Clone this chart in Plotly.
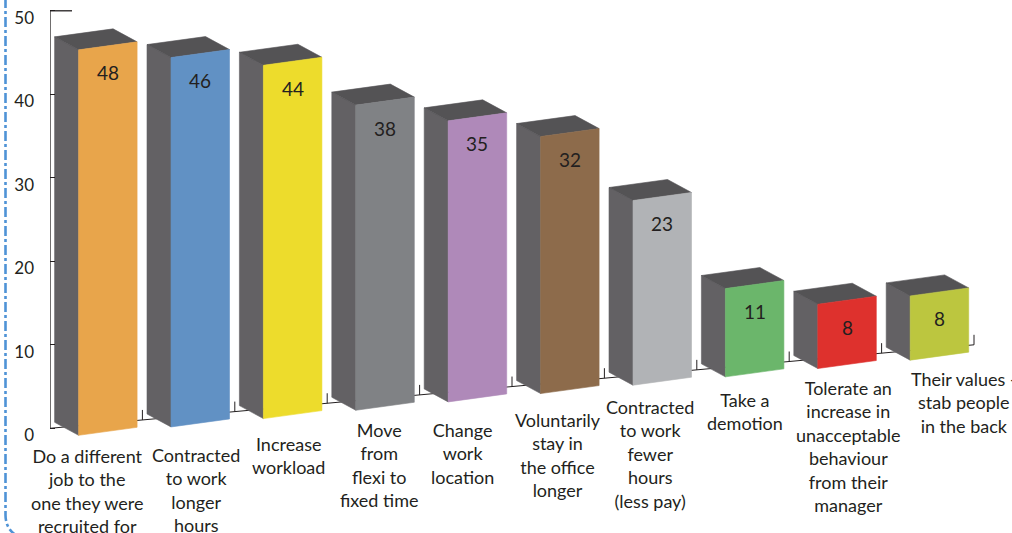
import plotly.graph_objects as go

# ---- data -------------------------------------------------------------
categories = [
    "Do a different<br>job to the<br>one they were<br>recruited for",
    "Contracted<br>to work<br>longer<br>hours",
    "Increase<br>workload",
    "Move<br>from<br>flexi to<br>fixed time",
    "Change<br>work<br>location",
    "Voluntarily<br>stay in<br>the office<br>longer",
    "Contracted<br>to work<br>fewer<br>hours<br>(less pay)",
    "Take a<br>demotion",
    "Tolerate an<br>increase in<br>unacceptable<br>behaviour<br>from their<br>manager",
    "Their values -<br>stab people<br>in the back",
]
values = [48, 46, 44, 38, 35, 32, 23, 11, 8, 8]
y_ticks = [0, 10, 20, 30, 40, 50]

# ---- style ------------------------------------------------------------
face_colors = ["#E8A54B", "#6191C4", "#EDDC2C", "#808285", "#AF89B9",
               "#8D6B4B", "#B1B3B6", "#6BB66B", "#DE312D", "#BCC63F"]
SIDE_COLOR = "#636164"
TOP_COLOR = "#545355"
INK = "#231F20"
FONT = "Lato, 'Open Sans', sans-serif"

W, H = 1012, 533
PLOT_LEFT = 50          # px, where the value axis sits
ORIGIN_Y = 428.3        # px, screen row of value 0 on the axis
CAT_PX = 92.4           # px per category along the floor
VAL_PX = 8.35           # px per value unit on the axis
FLOOR_RISE_PX = 8.35    # floor climbs this many px per category (oblique view)
BAR_PX = 8.03           # px per value unit on the bar fronts (set in front of the axis)

FRONT_OFFSET = (28.6, 7.0)   # px from category start on the floor to front-bottom-left
FRONT_W = (58.5, -8.0)       # px, front face width vector
DEPTH = (-24.0, -13.0)       # px, front-to-back vector
TICK_PX = 10                 # px, height of floor ticks
LABEL_SHIFT = 27             # px below the top edge for value labels

# small per-label nudges for the category captions (px)
label_dx = [-9, 7, 7.5, 6, -3, 0, -1, 2, 12.6, 36]
label_drop = [31.9, 39.3, 35.9, 31, 39.3, 37.4, 32.8, 33.8, 30.2, 30]
LINE_PX = 23.4


def off(dx, dy):
    """Screen-pixel offset -> data-unit offset."""
    return dx / CAT_PX, -dy / VAL_PX


def add(p, q):
    return (p[0] + q[0], p[1] + q[1])


floor_slope = FLOOR_RISE_PX / VAL_PX
bar_scale = BAR_PX / VAL_PX

fig = go.Figure()

# floor line with category ticks (behind the bars)
n = len(values)
fx = [0, n]
fy = [0, n * floor_slope]
tick_dv = TICK_PX / VAL_PX
for k in range(1, n + 1):
    fx += [None, k, k]
    fy += [None, k * floor_slope, k * floor_slope + tick_dv]
fig.add_trace(go.Scatter(x=fx, y=fy, mode="lines",
                         line=dict(color=INK, width=1), hoverinfo="skip"))

annotations = []
for i, (val, col) in enumerate(zip(values, face_colors)):
    start = (i, i * floor_slope)
    bl = add(start, off(*FRONT_OFFSET))
    wv = off(*FRONT_W)
    dv = off(*DEPTH)
    hv = (0, val * bar_scale)
    br = add(bl, wv)
    tl = add(bl, hv)
    tr = add(br, hv)
    faces = [
        ([bl, add(bl, dv), add(tl, dv), tl], SIDE_COLOR),
        ([tl, tr, add(tr, dv), add(tl, dv)], TOP_COLOR),
        ([bl, br, tr, tl], col),
    ]
    for pts, c in faces:
        xs = [p[0] for p in pts] + [pts[0][0]]
        ys = [p[1] for p in pts] + [pts[0][1]]
        fig.add_trace(go.Scatter(x=xs, y=ys, mode="lines", fill="toself",
                                 fillcolor=c, line=dict(color=c, width=0.6),
                                 hoverinfo="skip"))
    top_mid = add(tl, (wv[0] / 2, wv[1] / 2))
    annotations.append(dict(x=top_mid[0], y=top_mid[1], text=str(val),
                            showarrow=False, yanchor="middle", xanchor="center",
                            yshift=-LABEL_SHIFT,
                            font=dict(family=FONT, size=19, color=INK)))
    # category caption under each bar
    nlines = categories[i].count("<br>") + 1
    cu = i + 0.5
    annotations.append(dict(x=cu, y=cu * floor_slope, text=categories[i],
                            showarrow=False, xanchor="center", yanchor="middle",
                            xshift=label_dx[i],
                            yshift=-(label_drop[i] + (nlines - 1) * LINE_PX / 2),
                            align="center",
                            font=dict(family=FONT, size=18, color=INK)))


def px_x(px):
    return (px - PLOT_LEFT) / (W - PLOT_LEFT)


def px_y(py):
    return (H - py) / H


shapes = [
    # value axis line and top bracket
    dict(type="line", xref="x", yref="y", x0=0, y0=0, x1=0, y1=50,
         line=dict(color=INK, width=1.3)),
    dict(type="line", xref="x", yref="y", x0=0, y0=50, x1=22 / CAT_PX, y1=50,
         line=dict(color=INK, width=1.3)),
    # dashed blue frame at the left edge
    dict(type="path", xref="paper", yref="paper",
         path=(f"M {px_x(5.5)},{px_y(-2)} L {px_x(5.5)},{px_y(515)} "
               f"Q {px_x(5.5)},{px_y(530)} {px_x(19)},{px_y(537)}"),
         line=dict(color="#4F93D6", width=2.6, dash="10px,3px,3px,3px")),
]

fig.update_layout(
    width=W, height=H,
    margin=dict(l=PLOT_LEFT, r=0, t=0, b=0),
    paper_bgcolor="white", plot_bgcolor="white",
    showlegend=False,
    xaxis=dict(range=[0, (W - PLOT_LEFT) / CAT_PX], visible=False, fixedrange=True),
    yaxis=dict(range=[-(H - ORIGIN_Y) / VAL_PX, ORIGIN_Y / VAL_PX],
               tickmode="array", tickvals=y_ticks,
               ticktext=[str(t) for t in y_ticks],
               ticks="inside", ticklen=5, tickwidth=1, tickcolor=INK,
               showline=False, showgrid=False, zeroline=False,
               tickfont=dict(family=FONT, size=17, color=INK),
               ticklabelstandoff=15, ticklabelshift=7, fixedrange=True),
    shapes=shapes,
    annotations=annotations,
)

fig.write_html("out.html", config={"displayModeBar": False})
